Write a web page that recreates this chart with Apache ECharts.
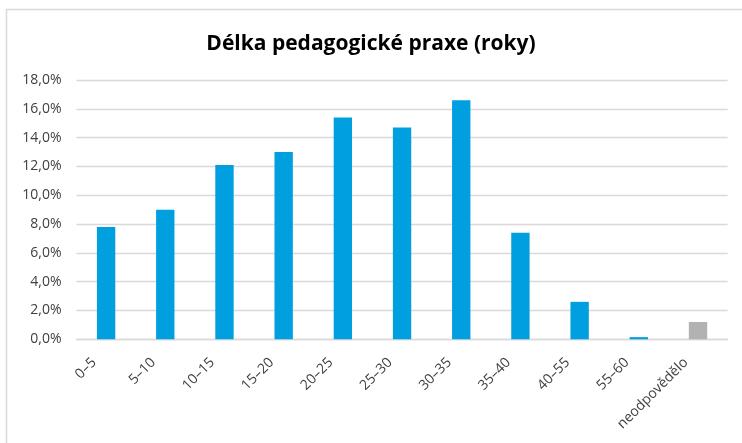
<!DOCTYPE html>
<html>
<head>
<meta charset="utf-8">
<script src="https://cdn.jsdelivr.net/npm/echarts@6/dist/echarts.min.js"></script>
<style>html,body{margin:0;padding:0;background:#fff}#c{width:742px;height:443px}</style>
</head>
<body>
<div id="c"></div>
<script>
const categories = ['0–5','5–10','10–15','15–20','20–25','25–30','30–35','35–40','40–55','55–60','neodpovědělo'];
const values = [7.8, 9.0, 12.1, 13.0, 15.4, 14.7, 16.6, 7.4, 2.6, 0.15, 1.2];
const barColors = ['#009fe0','#009fe0','#009fe0','#009fe0','#009fe0','#009fe0','#009fe0','#009fe0','#009fe0','#009fe0','#b2b2b2'];
const yTicks = {min: 0, max: 18, interval: 2};
const titleText = 'Délka pedagogické praxe (roky)';

const chart = echarts.init(document.getElementById('c'), null, {renderer: 'canvas'});
chart.setOption({
  animation: false,
  backgroundColor: '#fff',
  graphic: [{
    type: 'rect', silent: true, z: -1,
    shape: {x: 6.5, y: 9.5, width: 800, height: 500},
    style: {fill: 'none', stroke: '#d9d9d9', lineWidth: 1.5}
  }],
  title: {
    text: titleText, left: 'center', top: 29,
    textStyle: {fontFamily: 'Open Sans', fontWeight: 'bold', fontSize: 21, color: '#000'}
  },
  grid: {left: 76.5, right: 14.4, top: 80, bottom: 103.7, containLabel: false},
  xAxis: {
    type: 'category', data: categories,
    axisLine: {lineStyle: {color: '#d9d9d9', width: 1.3}},
    axisTick: {show: false},
    axisLabel: {rotate: 45, interval: 0, margin: 9, padding: [0, 17, 0, 0],
      fontFamily: 'Open Sans', fontSize: 14, color: '#404040'}
  },
  yAxis: {
    type: 'value', min: yTicks.min, max: yTicks.max, interval: yTicks.interval,
    axisLine: {show: false}, axisTick: {show: false},
    splitLine: {lineStyle: {color: '#d9d9d9', width: 1.3}},
    axisLabel: {margin: 15, fontFamily: 'Open Sans', fontSize: 14, color: '#404040',
      formatter: v => v.toFixed(1).replace('.', ',') + '%'}
  },
  series: [{
    type: 'bar', barWidth: '31%',
    data: values.map((v, i) => ({value: v, itemStyle: {color: barColors[i]}}))
  }]
});
</script>
</body>
</html>
